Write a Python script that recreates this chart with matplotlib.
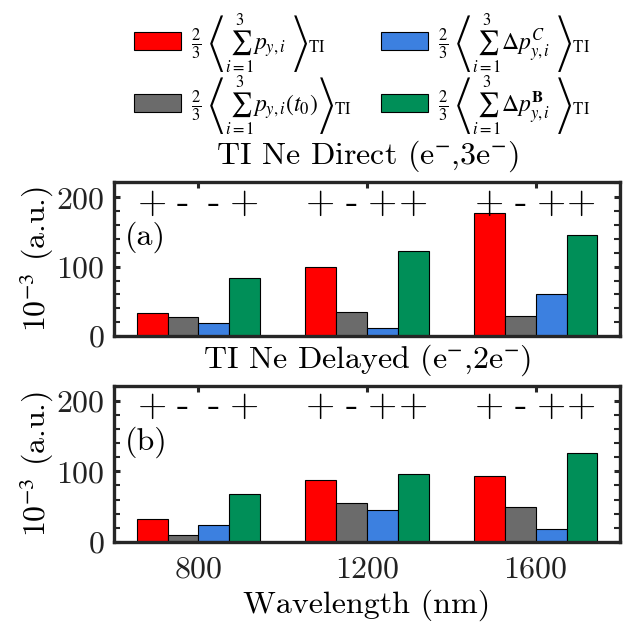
import matplotlib
matplotlib.use("Agg")
import matplotlib.pyplot as plt
import numpy as np
from matplotlib.ticker import MultipleLocator

plt.rcParams['font.family'] = 'serif'
plt.rcParams['font.serif'] = ['cmr10', 'DejaVu Serif']
plt.rcParams['mathtext.fontset'] = 'stix'
plt.rcParams['axes.formatter.use_mathtext'] = True

# data (10^-3 a.u.)
wavelengths = [800, 1200, 1600]
direct_total = [33, 99, 177]
direct_t0 = [27, 34, 29]
direct_coul = [19, 12, 60]
direct_field = [84, 122, 145]
delayed_total = [32, 88, 94]
delayed_t0 = [10, 55, 50]
delayed_coul = [24, 45, 18]
delayed_field = [68, 97, 126]

signs_direct = [['+', '-', '-', '+'], ['+', '-', '+', '+'], ['+', '-', '+', '+']]
signs_delayed = [['+', '-', '-', '+'], ['+', '-', '+', '+'], ['+', '-', '+', '+']]

titles = [r'TI Ne Direct (e$^{-}$,3e$^{-}$)', r'TI Ne Delayed (e$^{-}$,2e$^{-}$)']
panel_tags = ['(a)', '(b)']

labels = [
    r'$\frac{2}{3}\ \left\langle\sum_{i=1}^{3} p_{y,i}\ \right\rangle_{\mathrm{TI}}$',
    r'$\frac{2}{3}\ \left\langle\sum_{i=1}^{3} p_{y,i}(t_0)\right\rangle_{\mathrm{TI}}$',
    r'$\frac{2}{3}\ \left\langle\sum_{i=1}^{3} \Delta p_{y,i}^{C}\ \right\rangle_{\mathrm{TI}}$',
    r'$\frac{2}{3}\ \left\langle\sum_{i=1}^{3} \Delta p_{y,i}^{\mathbf{B}}\ \right\rangle_{\mathrm{TI}}$',
]
colors = ['#ff0000', '#6b6b6b', '#3c80e0', '#008f58']

fig = plt.figure(figsize=(6.24, 6.27), dpi=100)
ax1 = fig.add_axes([0.1827, 0.464, 0.811, 0.2456])
ax2 = fig.add_axes([0.1827, 0.136, 0.811, 0.249])

width = 73
offsets = np.array([-1.5, -0.5, 0.5, 1.5]) * width
x = np.array(wavelengths)

panels = [
    (ax1, [direct_total, direct_t0, direct_coul, direct_field], signs_direct),
    (ax2, [delayed_total, delayed_t0, delayed_coul, delayed_field], signs_delayed),
]

frame_col = '#262626'
handles = []
for k, (ax, series, signs) in enumerate(panels):
    for j, vals in enumerate(series):
        b = ax.bar(x + offsets[j], vals, width, color=colors[j],
                   edgecolor='black', linewidth=0.8, zorder=2)
        if k == 0:
            handles.append(b)
    for g in range(len(wavelengths)):
        for j in range(4):
            ax.text(x[g] + offsets[j], 192, signs[g][j], ha='center', va='center',
                    fontsize=27, color='black')
    ax.set_xlim(600, 1800)
    ax.set_ylim(0, 222)
    ax.set_xticks(wavelengths)
    ax.yaxis.set_major_locator(MultipleLocator(100))
    ax.yaxis.set_minor_locator(MultipleLocator(20))
    ax.tick_params(which='both', direction='in', top=True, right=True,
                   labelsize=23, colors=frame_col, labelcolor='#222222')
    ax.tick_params(which='major', length=4, width=2.2)
    ax.tick_params(which='minor', length=4, width=1.5)
    ax.tick_params(axis='x', pad=10)
    ax.tick_params(axis='y', pad=7)
    for s in ax.spines.values():
        s.set_linewidth(2.4)
        s.set_color(frame_col)
    ax.set_title(titles[k], fontsize=23, pad=13)
    ax.set_ylabel(r'10$^{-3}$ (a.u.)', fontsize=23)
    ax.yaxis.set_label_coords(-0.115, 0.5)
    ax.text(0.022, 0.64, panel_tags[k], transform=ax.transAxes, fontsize=23,
            ha='left', va='center')

ax1.tick_params(labelbottom=False)
ax2.set_xlabel('Wavelength (nm)', fontsize=23, labelpad=5)

fig.legend(handles, labels, ncol=2, loc='upper center',
           bbox_to_anchor=(0.58, 1.0), frameon=False, fontsize=17,
           handlelength=2.0, handleheight=0.8, handletextpad=0.4,
           columnspacing=1.25, labelspacing=-0.02, borderaxespad=0.1)

fig.savefig('out.png', dpi=100)
